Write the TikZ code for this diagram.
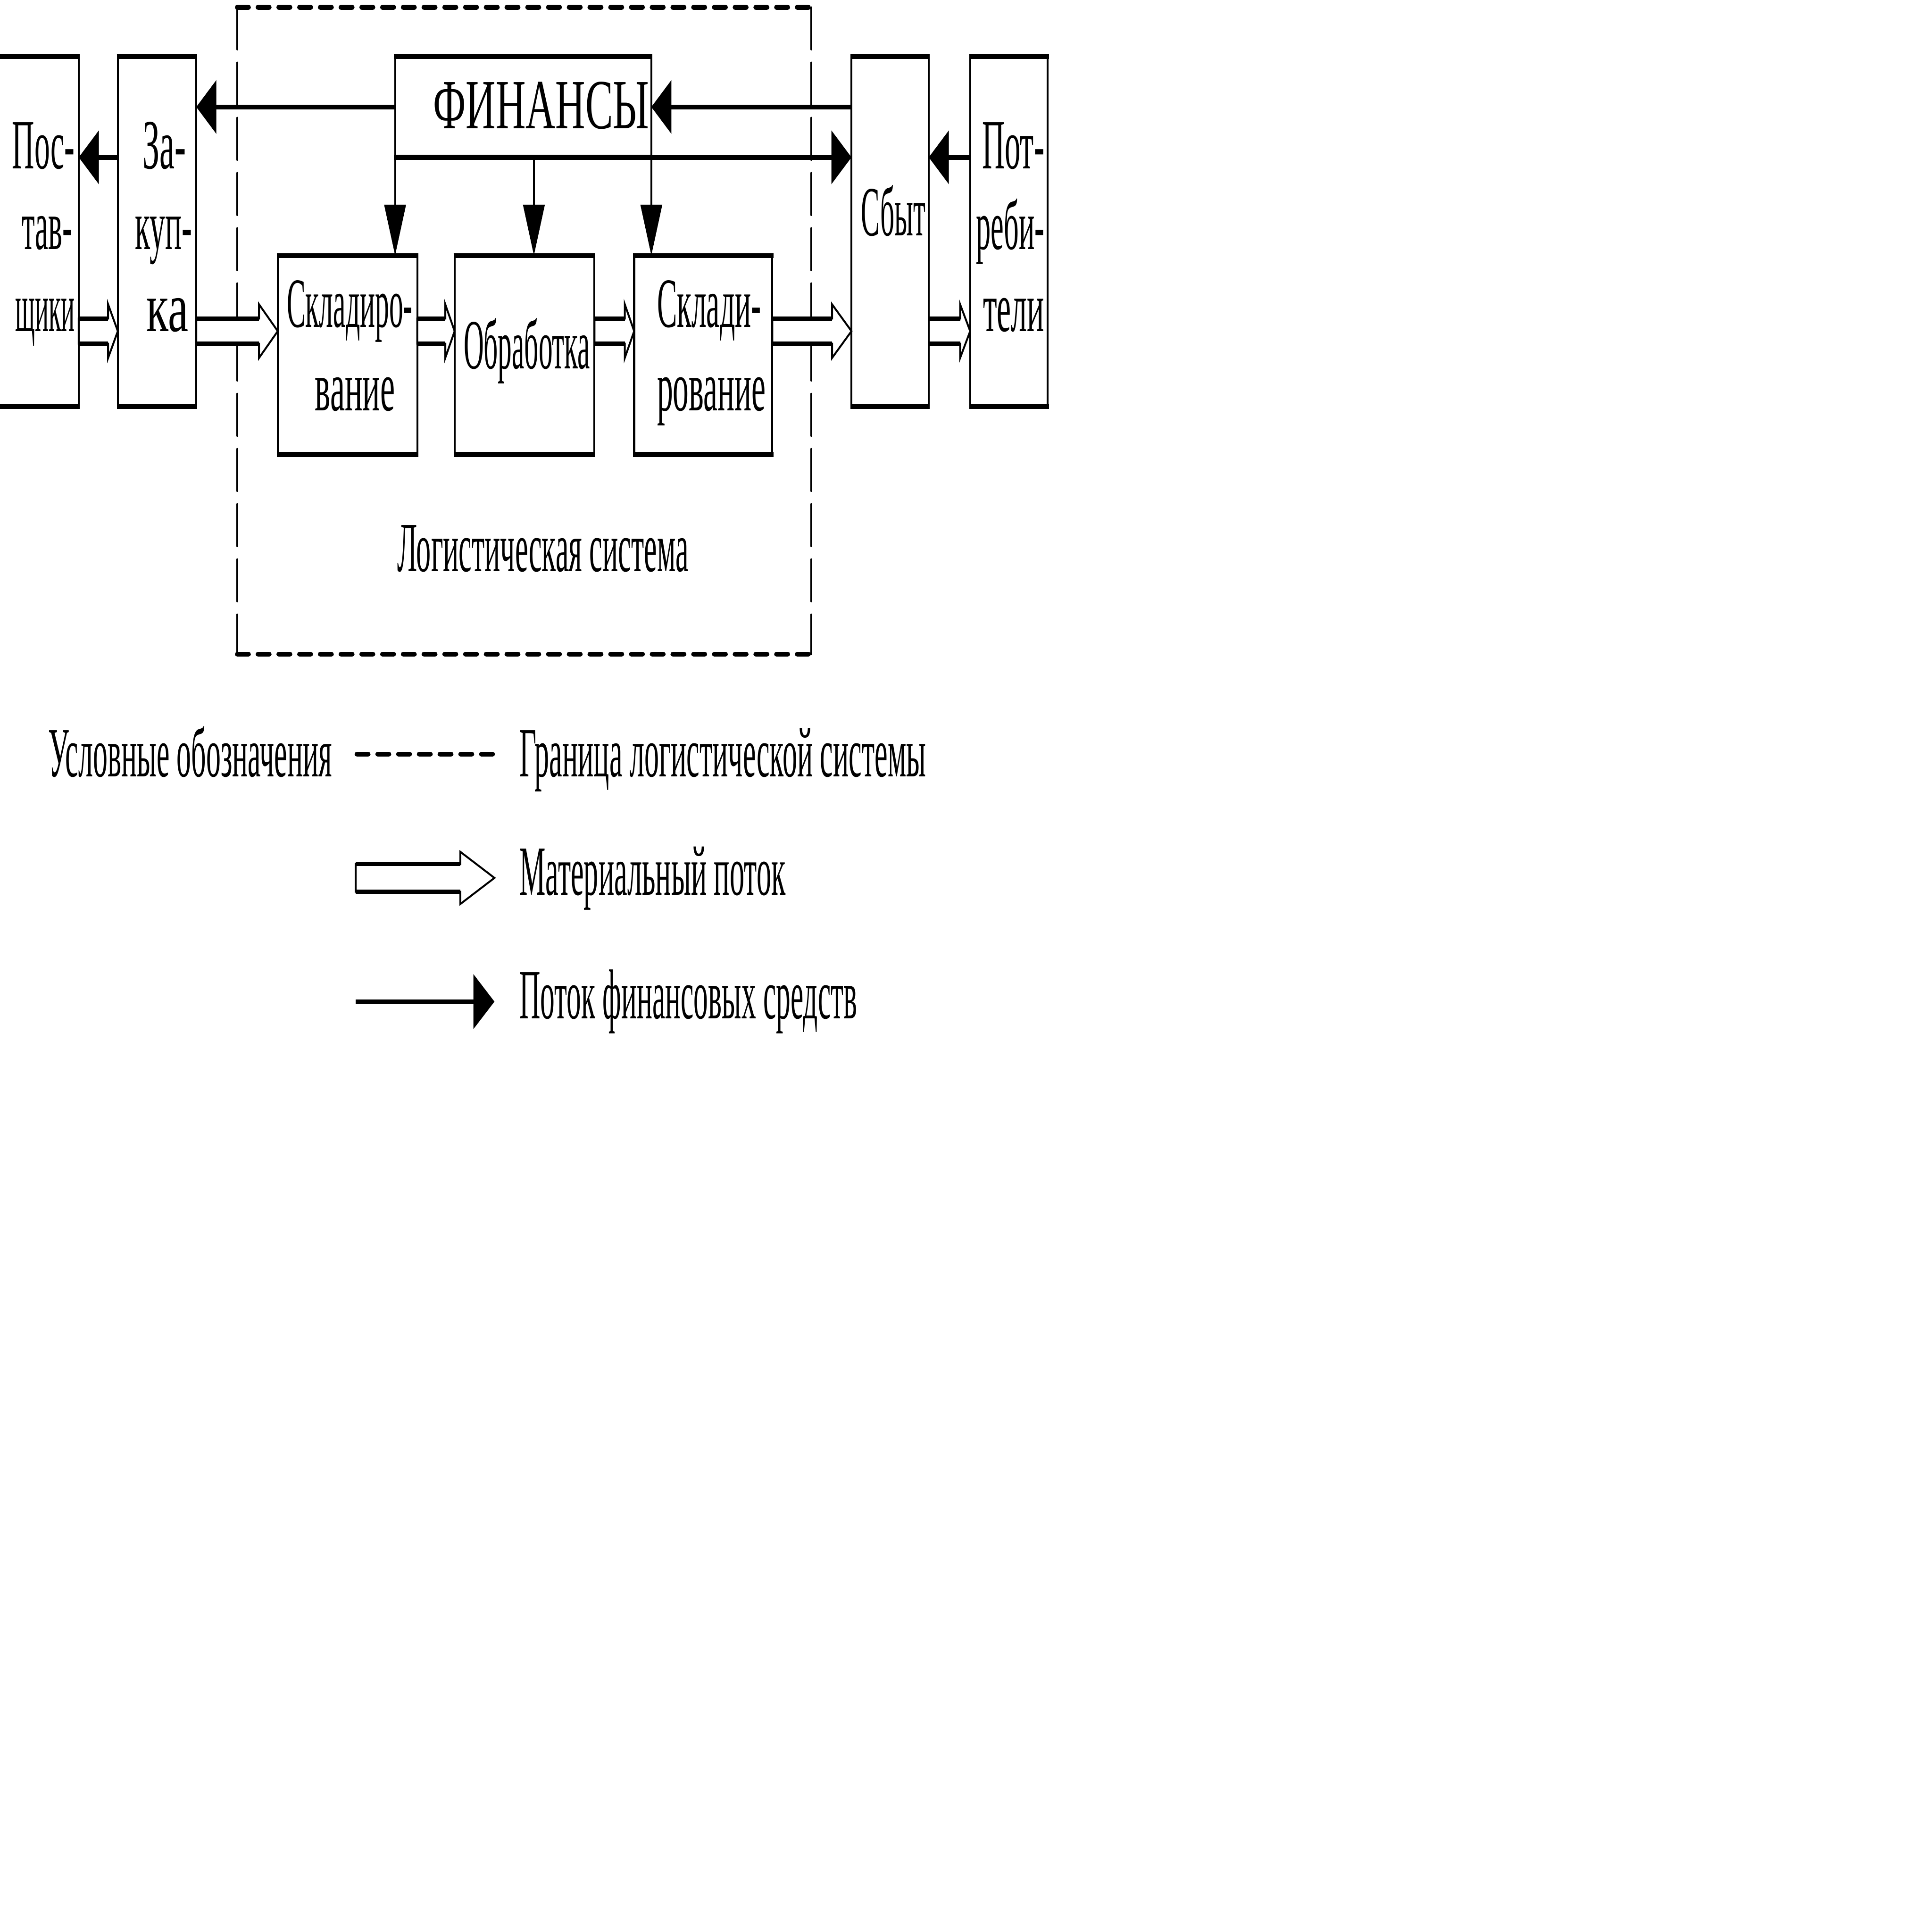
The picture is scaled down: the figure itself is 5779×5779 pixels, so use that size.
\documentclass[tikz,border=0pt]{standalone}
\usepackage{fontspec}
\setmainfont{Liberation Serif}
\usepackage{graphicx}
\usetikzlibrary{arrows.meta,calc}
\newcommand\sq[2]{\resizebox{#1}{\height}{#2}}
% frame of a box: thick horizontal edges, thin vertical edges
\newcommand\frameit[1]{%
  \draw[vln] (#1.north west) -- (#1.south west);
  \draw[vln] (#1.north east) -- (#1.south east);
  \draw[hln] ([xshift=-0.03cm]#1.north west) -- ([xshift=0.03cm]#1.north east);
  \draw[hln] ([xshift=-0.03cm]#1.south west) -- ([xshift=0.03cm]#1.south east);}
% hollow material-flow arrow: #1 start, #2 tip, #3 head length, #4 shaft half width, #5 head half height
\newcommand\matarr[5]{%
  \draw[matthin] ($(#1)+(0,-#4)$) -- ($(#2)+(-#3,-#4)$) -- ($(#2)+(-#3,-#5)$) -- (#2)
    -- ($(#2)+(-#3,#5)$) -- ($(#2)+(-#3,#4)$) -- ($(#1)+(0,#4)$) -- cycle;
  \draw[matthick] ($(#1)+(0,-#4)$) -- ($(#2)+(-#3,-#4)$);
  \draw[matthick] ($(#1)+(0,#4)$) -- ($(#2)+(-#3,#4)$);}
\begin{document}
\begin{tikzpicture}[x=0.01cm,y=-0.01cm,
  box/.style={inner sep=0pt, outer sep=0pt},
  hln/.style={line width=4.2pt, line cap=butt},
  vln/.style={line width=1.7pt, line cap=butt},
  txt/.style={inner sep=0pt, font=\fontsize{60pt}{70pt}\selectfont, anchor=base},
  matthin/.style={draw, line width=1.6pt, fill=white, line join=miter},
  matthick/.style={line width=3.7pt, line cap=butt},
  finflow/.style={line width=4pt, -{Triangle[length=0.6cm,width=1.58cm]}},
  findown/.style={line width=1.7pt, -{Triangle[length=1.52cm,width=0.64cm]}},
  bndh/.style={line width=4.2pt, line cap=round, dash pattern=on 0.33cm off 0.29cm},
  bndv/.style={line width=1.6pt, line cap=round, dash pattern=on 1.26cm off 0.39cm}]
\useasboundingbox (0,0) rectangle (5779,5779);

% boundary of the logistic system
\coordinate (bnw) at (710,22);
\coordinate (bse) at (2427,1957);
\draw[bndv] (bnw) -- (bnw |- bse);
\draw[bndv] (bnw -| bse) -- (bse);
\draw[bndh] (bnw) -- (bnw -| bse);
\draw[bndh] (bnw |- bse) -- (bse);

% boxes
\node[box, minimum width=2.38cm, minimum height=10.46cm] (post) at (116.5,692.5) {};
\node[box, minimum width=2.345cm, minimum height=10.46cm] (zak) at (469.75,692.5) {};
\node[box, minimum width=7.66cm, minimum height=3.01cm] (fin) at (1565,320) {};
\node[box, minimum width=4.17cm, minimum height=5.95cm] (sk1) at (1039.5,1062) {};
\node[box, minimum width=4.18cm, minimum height=5.95cm] (obr) at (1569,1062) {};
\node[box, minimum width=4.13cm, minimum height=5.95cm] (sk2) at (2103.5,1062) {};
\node[box, minimum width=2.31cm, minimum height=10.46cm] (sbyt) at (2662.5,692.5) {};
\node[box, minimum width=2.32cm, minimum height=10.46cm] (potr) at (3018,692.5) {};
\frameit{post}\frameit{zak}\frameit{fin}\frameit{sk1}
\frameit{obr}\frameit{sk2}\frameit{sbyt}\frameit{potr}

% texts in boxes
\node[txt] (tpost1) at (130,504) {\sq{1.87cm}{Пос-}};
\node[txt] (tpost2) at (141,745) {\sq{1.51cm}{тав-}};
\node[txt] (tpost3) at (135,991) {\sq{1.78cm}{щики}};
\node[txt] (tzak1) at (492,504) {\sq{1.30cm}{За-}};
\node[txt] (tzak2) at (490,745) {\sq{1.71cm}{куп-}};
\node[txt] (tzak3) at (501,991) {\sq{1.25cm}{ка}};
\node[txt] (tfin) at (1619,384) {\sq{6.46cm}{ФИНАНСЫ}};
\node[txt] (tsk11) at (1046,978) {\sq{3.76cm}{Складиро-}};
\node[txt] (tsk12) at (1062,1228) {\sq{2.39cm}{вание}};
\node[txt] (tobr) at (1576,1103) {\sq{3.78cm}{Обработка}};
\node[txt] (tsk21) at (2121,978) {\sq{3.11cm}{Склади-}};
\node[txt] (tsk22) at (2128,1228) {\sq{3.25cm}{рование}};
\node[txt] (tsbyt) at (2672,705) {\sq{1.92cm}{Сбыт}};
\node[txt] (tpotr1) at (3031,504) {\sq{1.86cm}{Пот-}};
\node[txt] (tpotr2) at (3022,745) {\sq{2.04cm}{реби-}};
\node[txt] (tpotr3) at (3032,991) {\sq{1.83cm}{тели}};
\node[txt] (tlog) at (1624,1709) {\sq{8.71cm}{Логистическая система}};

% financial flows
\draw[finflow] (fin.west) -- (zak.east |- fin.west);
\draw[finflow] (zak.west |- fin.south) -- (post.east |- fin.south);
\draw[finflow] (sbyt.west |- fin.east) -- (fin.east);
\draw[finflow] (fin.south east) -- (sbyt.west |- fin.south east);
\draw[finflow] (potr.west |- fin.south) -- (sbyt.east |- fin.south);
\coordinate (finmid) at ($(fin.south)+(32,0)$);
\draw[findown] (fin.south west) -- (fin.south west |- sk1.north);
\draw[findown] (finmid) -- (finmid |- obr.north);
\draw[findown] (fin.south east) -- (fin.south east |- sk2.north);

% material flows
\coordinate (mf) at (0,990.5);
\coordinate (m1s) at (post.east |- mf); \coordinate (m1e) at (zak.west |- mf);
\coordinate (m2s) at (zak.east |- mf);  \coordinate (m2e) at (sk1.west |- mf);
\coordinate (m3s) at (sk1.east |- mf);  \coordinate (m3e) at (obr.west |- mf);
\coordinate (m4s) at (obr.east |- mf);  \coordinate (m4e) at (sk2.west |- mf);
\coordinate (m5s) at (sk2.east |- mf);  \coordinate (m5e) at (sbyt.west |- mf);
\coordinate (m6s) at (sbyt.east |- mf); \coordinate (m6e) at (potr.west |- mf);
\matarr{m1s}{m1e}{29}{37.5}{80}
\matarr{m2s}{m2e}{56}{37.5}{80}
\matarr{m3s}{m3e}{28}{37.5}{80}
\matarr{m4s}{m4e}{28}{37.5}{80}
\matarr{m5s}{m5e}{58}{37.5}{80}
\matarr{m6s}{m6e}{30}{37.5}{80}

% legend
\node[txt] (leg0) at (569,2323) {\sq{8.48cm}{Условные обозначения}};
\coordinate (l1s) at (1068,2256); \coordinate (l1e) at (1475,2256);
\draw[bndh] (l1s) -- (l1e);
\node[txt] (leg1) at (2162,2323) {\sq{12.15cm}{Граница логистической системы}};
\coordinate (l2s) at (1064,2626); \coordinate (l2e) at (1479,2626);
\matarr{l2s}{l2e}{102}{41.5}{78}
\node[txt] (leg2) at (1952,2677) {\sq{7.95cm}{Материальный поток}};
\coordinate (l3s) at (1064,2996); \coordinate (l3e) at (1479,2996);
\draw[line width=3.7pt, -{Triangle[length=0.63cm,width=1.62cm]}] (l3s) -- (l3e);
\node[txt] (leg3) at (2059,3047) {\sq{10.09cm}{Поток финансовых средств}};
\end{tikzpicture}
\end{document}
